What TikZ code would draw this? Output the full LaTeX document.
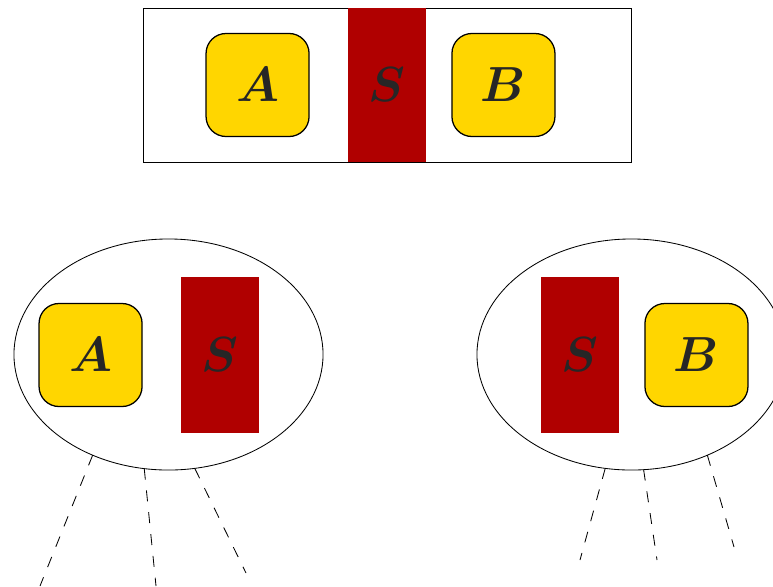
\documentclass[tikz,border=0pt]{standalone}
\usepackage{amsmath}
\usepackage{bm}
\usepackage{graphicx}
\usepackage{tikz}
\usetikzlibrary{shapes.geometric, positioning}
\definecolor{partyyellow}{HTML}{FFD600}
\definecolor{sepred}{HTML}{B00000}
\newcommand{\bigletter}[1]{\scalebox{1.41}{$\bm{#1}$}}
\tikzstyle{letter} = [font=\Huge, text=black!85]
\tikzstyle{party} = [letter, rectangle, rounded corners=0.5cm, draw=black, line width=0.9pt, fill=partyyellow, minimum size=2.575cm, inner sep=0pt]
\tikzstyle{sep} = [letter, rectangle, fill=sepred, minimum width=1.95cm, minimum height=3.9cm, inner sep=0pt]
\tikzstyle{view} = [ellipse, draw=black, line width=0.6pt, minimum width=7.725cm, minimum height=5.775cm, inner sep=0pt, outer sep=0pt]
\tikzstyle{branch} = [line width=0.6pt, dash pattern=on 7.8pt off 7.8pt]

\begin{document}
\begin{tikzpicture}[x=0.025cm, y=-0.025cm]
		\useasboundingbox (0,0) rectangle (773,586);
		% whole system
		\node (whole) [rectangle, draw=black, line width=0.5pt, minimum width=12.2cm, minimum height=3.85cm] at (387,85) {};
		\node (s0) [sep, minimum height=3.85cm] at (387,85) {\bigletter{S}};
		\node (a0) [party, left=0.95cm of s0] {\bigletter{A}};
		\node (b0) [party, right=0.625cm of s0] {\bigletter{B}};
		% left view
		\node (lview) [view] at (168.5,354.5) {};
		\node (s1) [sep] at (220,355) {\bigletter{S}};
		\node (a1) [party, left=0.95cm of s1] {\bigletter{A}};
		% right view
		\node (rview) [view] at (631.5,354.5) {};
		\node (s2) [sep] at (580,355) {\bigletter{S}};
		\node (b2) [party, right=0.625cm of s2] {\bigletter{B}};
		% branches
		\coordinate (l1) at (40,586);
		\coordinate (l2) at (156,586);
		\coordinate (l3) at (246,573);
		\coordinate (r1) at (580,560);
		\coordinate (r2) at (657,560);
		\coordinate (r3) at (734,547);
		\draw [branch] (lview.-127) -- (l1);
		\draw [branch] (lview.-102) -- (l2);
		\draw [branch] (lview.-77) -- (l3);
		\draw [branch] (rview.-103) -- (r1);
		\draw [branch] (rview.-84) -- (r2);
		\draw [branch] (rview.-53) -- (r3);
\end{tikzpicture}
\end{document}
